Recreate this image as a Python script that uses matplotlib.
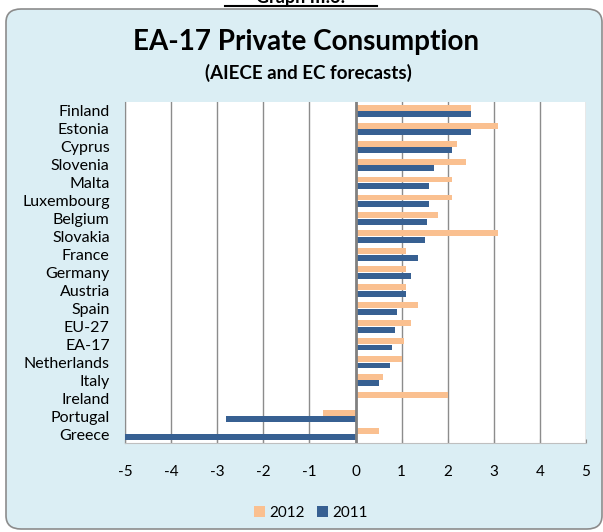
import matplotlib
matplotlib.use("Agg")
import matplotlib.pyplot as plt
from matplotlib.patches import FancyBboxPatch
import numpy as np

plt.rcParams['font.family'] = ['Lato', 'DejaVu Sans']

countries = ["Finland", "Estonia", "Cyprus", "Slovenia", "Malta", "Luxembourg",
             "Belgium", "Slovakia", "France", "Germany", "Austria", "Spain",
             "EU-27", "EA-17", "Netherlands", "Italy", "Ireland", "Portugal", "Greece"]
v2012 = [2.5, 3.1, 2.2, 2.4, 2.1, 2.1, 1.8, 3.1, 1.1, 1.1, 1.1, 1.35,
         1.2, 1.05, 1.0, 0.6, 2.0, -0.7, 0.5]
v2011 = [2.5, 2.5, 2.1, 1.7, 1.6, 1.6, 1.55, 1.5, 1.35, 1.2, 1.1, 0.9,
         0.85, 0.8, 0.75, 0.5, 0.0, -2.8, -5.0]
series_names = ["2012", "2011"]
xticks = [-5, -4, -3, -2, -1, 0, 1, 2, 3, 4, 5]

c2012 = "#FAC090"
c2011 = "#376092"
bg = "#DBEEF4"

W, H = 603, 532
fig = plt.figure(figsize=(W / 100, H / 100), dpi=100)
fig.patch.set_facecolor("white")

# outer rounded chart box
box = FancyBboxPatch((6 / W, 3 / H), 596 / W, 520 / H,
                     boxstyle="round,pad=0,rounding_size=0.025",
                     transform=fig.transFigure, facecolor=bg,
                     edgecolor="#8C8C8C", linewidth=1.2, zorder=0)
fig.patches.append(box)

# heading that is clipped by the top edge in the reference
fig.text(301 / W, 1 - 3.5 / H, "Graph III.6:", ha="center", va="baseline",
         fontsize=13, fontweight="bold", color="black")
fig.add_artist(plt.Line2D([225 / W, 377 / W], [1 - 6 / H, 1 - 6 / H],
                          transform=fig.transFigure, color="black", lw=1.5))

fig.text(306 / W, 1 - 42 / H, "EA-17 Private Consumption", ha="center",
         va="center", fontsize=20, fontweight="bold", color="black")
fig.text(308 / W, 1 - 73 / H, "(AIECE and EC forecasts)", ha="center",
         va="center", fontsize=13.5, fontweight="bold", color="black")

ax = fig.add_axes([125 / W, 1 - 443 / H, 461 / W, 341 / H])
ax.set_zorder(2)
ax.set_facecolor("white")

n = len(countries)
y = np.arange(n)
h = 0.33
ax.barh(y - 0.18, v2012, height=h, color=c2012, label=series_names[0], zorder=3)
ax.barh(y + 0.18, v2011, height=h, color=c2011, label=series_names[1], zorder=3)

ax.set_ylim(n - 0.5, -0.5)
ax.set_xlim(-5, 5)
ax.set_xticks(xticks)
ax.set_xticklabels([str(t) for t in xticks])
ax.set_yticks(y)
ax.set_yticklabels(countries)

for t in xticks:
    if t != 0:
        ax.axvline(t, color="#8C8C8C", lw=1.0, zorder=1)
ax.axvline(0, color="#808080", lw=2.0, zorder=4)

for s in ["top", "right"]:
    ax.spines[s].set_visible(False)
ax.spines["left"].set_color("#8C8C8C")
ax.spines["bottom"].set_color("#BFBFBF")
ax.tick_params(axis="y", length=0, pad=11, labelsize=11.5)
ax.tick_params(axis="x", length=3, direction="in", color="#8C8C8C", pad=16, labelsize=11)

leg = fig.legend(loc="center", bbox_to_anchor=(311 / W, 1 - 513 / H), ncol=2,
                 frameon=False, fontsize=11, handlelength=0.7, handleheight=0.7,
                 handletextpad=0.3, columnspacing=0.8)

fig.savefig("out.png", dpi=100, facecolor="white")
